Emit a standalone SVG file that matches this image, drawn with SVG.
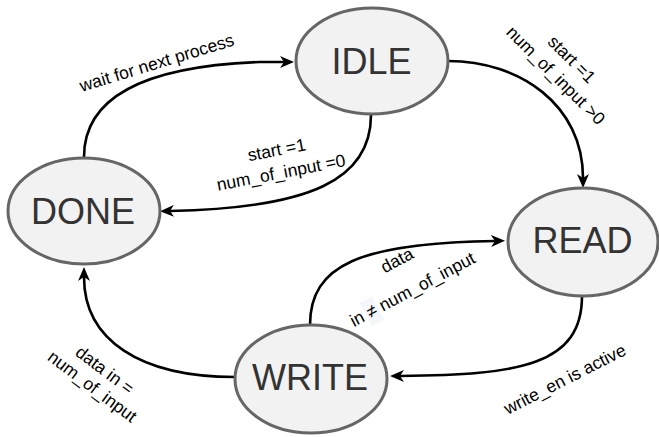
<svg xmlns="http://www.w3.org/2000/svg" width="659" height="437" viewBox="0 0 659 437">
<style>
.node ellipse{fill:#f2f2f2;stroke:#666666;stroke-width:3}
.node text{font-family:"Liberation Sans",Arial,sans-serif;font-size:36px;fill:#333333;text-anchor:middle}
.edge{fill:none;stroke:#000000;stroke-width:2.6}
.lbl{font-family:"Liberation Sans",Arial,sans-serif;font-size:17.5px;fill:#000000;text-anchor:middle}
</style>
<defs>
<marker id="arr" viewBox="0 0 14 12" refX="4" refY="6" markerWidth="14" markerHeight="12" markerUnits="userSpaceOnUse" orient="auto">
<path d="M0,0 L14,6 L0,12 L4,6 Z" fill="#000000"/>
</marker>
</defs>
<g id="connectors">
<path class="edge" marker-end="url(#arr)" d="M 84 157 C 84 95, 150 66, 260 62 L 284 62"/>
<path class="edge" marker-end="url(#arr)" d="M 371 115 C 371 180, 310 208, 170 211"/>
<path class="edge" marker-end="url(#arr)" d="M 448 61 C 520 61, 583 105, 583 178"/>
<path class="edge" marker-end="url(#arr)" d="M 582 296 C 582 365, 520 375, 400 376"/>
<path class="edge" marker-end="url(#arr)" d="M 310 325 C 310 265, 360 243, 495 241"/>
<path class="edge" marker-end="url(#arr)" d="M 235 377 C 140 377, 84 340, 84 277"/>
<g transform="translate(158.5,68.5) rotate(-17)"><text class="lbl" x="0" y="0">wait for next process</text></g>
<g transform="translate(280,167) rotate(-11)"><text class="lbl" x="0" y="-11.5">start =1</text><text class="lbl" x="0" y="11.5">num_of_input =0</text></g>
<g transform="translate(559.5,71.5) rotate(45)"><text class="lbl" x="0" y="-11.3">start =1</text><text class="lbl" x="0" y="11.3">num_of_input &gt;0</text></g>
<g transform="translate(567.5,384.5) rotate(-27)"><text class="lbl" x="0" y="0">write_en is active</text></g>
<g transform="translate(407.5,280) rotate(-28)"><rect x="-53" y="-2" width="14" height="26" fill="#f4f6f9"/><text class="lbl" x="0" y="-16.5">data</text><text class="lbl" x="0" y="16.5">in ≠ num_of_input</text></g>
<g transform="translate(95,383) rotate(37)"><text class="lbl" x="0" y="-10.3">data in =</text><text class="lbl" x="0" y="10.3">num_of_input</text></g>
</g>
<g id="IDLE" class="node"><ellipse cx="372" cy="61" rx="76" ry="53"/><text x="371.5" y="73.5">IDLE</text></g>
<g id="DONE" class="node"><ellipse cx="84" cy="211" rx="76" ry="53"/><text x="83" y="224">DONE</text></g>
<g id="READ" class="node"><ellipse cx="583" cy="242" rx="75" ry="54"/><text x="582.5" y="253">READ</text></g>
<g id="WRITE" class="node"><ellipse cx="311" cy="379" rx="76" ry="54"/><text x="310" y="390">WRITE</text></g>
</svg>
